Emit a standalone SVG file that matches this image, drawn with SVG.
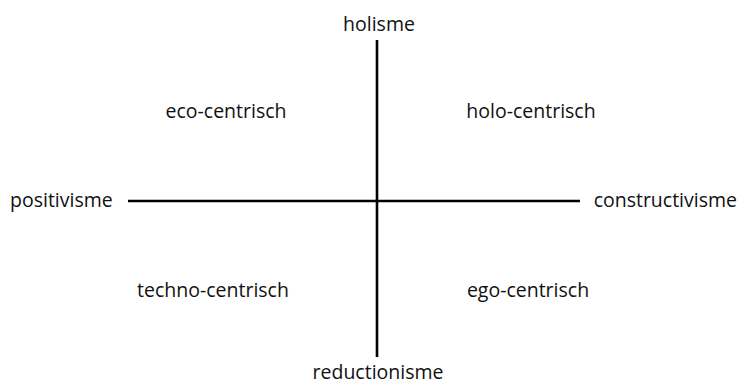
<svg xmlns="http://www.w3.org/2000/svg" width="737" height="385" viewBox="0 0 737 385">
<style>
text{font-family:"Open Sans","Liberation Sans",sans-serif;font-size:19.5px;fill:#111}
.axis{stroke:#000;stroke-width:2.6;fill:none}
</style>
<rect width="737" height="385" fill="#fff"/>
<g id="connectors">
<line class="axis" x1="377" y1="40" x2="377" y2="357"/>
<line class="axis" x1="128" y1="201" x2="580" y2="201"/>
</g>
<g id="holisme"><text x="379" y="31" text-anchor="middle">holisme</text></g>
<g id="reductionisme"><text x="378" y="379" text-anchor="middle">reductionisme</text></g>
<g id="positivisme"><text x="10" y="207">positivisme</text></g>
<g id="constructivisme"><text x="737" y="207" text-anchor="end">constructivisme</text></g>
<g id="eco-centrisch"><text x="226" y="118" text-anchor="middle">eco-centrisch</text></g>
<g id="holo-centrisch"><text x="531" y="118" text-anchor="middle">holo-centrisch</text></g>
<g id="techno-centrisch"><text x="213" y="297" text-anchor="middle">techno-centrisch</text></g>
<g id="ego-centrisch"><text x="528" y="297" text-anchor="middle">ego-centrisch</text></g>
</svg>
